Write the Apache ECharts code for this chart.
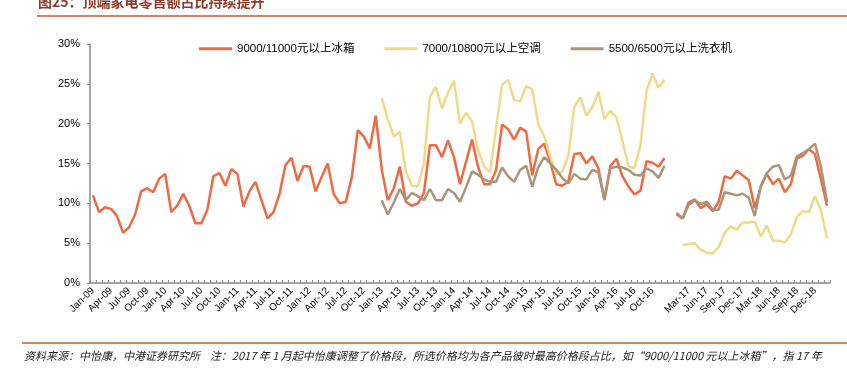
<!DOCTYPE html>
<html>
<head>
<meta charset="utf-8">
<script src="https://cdn.jsdelivr.net/npm/echarts@6/dist/echarts.min.js"></script>
<style>
  html, body { margin: 0; padding: 0; background: #fff; }
  #chart1 { width: 847px; height: 377px; }
</style>
</head>
<body>
<div id="chart1"></div>
<script>
// month names for the category axis
const monthNames = ['Jan', 'Feb', 'Mar', 'Apr', 'May', 'Jun', 'Jul', 'Aug', 'Sep', 'Oct', 'Nov', 'Dec'];

// 9000/11000元以上冰箱, Jan-09 .. Dec-16 and Jan-17 .. Feb-19 (%)
const fridgeOld = [
  11.0, 8.9, 9.5, 9.3, 8.4, 6.3, 7.0, 8.6, 11.5, 11.9, 11.4, 13.1,
  13.7, 8.9, 9.7, 11.2, 9.7, 7.5, 7.5, 9.2, 13.4, 13.8, 12.2, 14.3,
  13.7, 9.6, 11.5, 12.7, 10.4, 8.1, 8.9, 11.2, 14.8, 15.7, 12.8, 14.7,
  14.6, 11.5, 13.3, 15.0, 11.2, 10.0, 10.2, 13.2, 19.2, 18.4, 16.9, 21.0,
  14.2, 10.4, 11.9, 14.6, 10.2, 9.7, 10.0, 11.3, 17.3, 17.3, 15.8, 17.9,
  15.8, 12.4, 15.2, 18.0, 14.6, 12.4, 12.4, 14.2, 19.9, 19.3, 18.0, 19.5,
  19.0, 13.5, 16.8, 17.5, 15.2, 12.4, 12.2, 12.7, 16.2, 16.3, 15.0, 15.9,
  14.4, 10.4, 14.7, 15.6, 13.4, 12.1, 11.1, 11.6, 15.3, 15.1, 14.6, 15.7
];
const fridgeNew = [
  8.6, 8.1, 10.1, 10.5, 9.4, 9.9, 9.0, 10.2, 13.4, 13.1, 14.1, 13.5,
  12.9, 9.4, 12.1, 13.7, 12.4, 13.1, 11.4, 12.4, 15.6, 16.0, 16.8, 16.2,
  13.0, 9.7
];

// 7000/10800元以上空调, Jan-13 .. Dec-16 and Feb-17 .. Feb-19 (%)
const acOld = [
  23.2, 20.5, 18.4, 19.0, 14.0, 12.2, 12.1, 15.0, 23.4, 24.6, 21.9, 23.9,
  25.4, 20.0, 21.4, 20.3, 16.7, 14.6, 13.9, 19.5, 24.9, 25.5, 23.0, 22.8,
  24.7, 24.3, 20.0, 18.4, 15.9, 13.6, 14.0, 15.9, 22.1, 23.3, 21.0, 22.1,
  24.0, 20.6, 21.6, 20.8, 17.8, 14.7, 14.4, 17.3, 24.1, 26.3, 24.5, 25.5
];
const acNew = [
  4.8, 4.9, 5.0, 4.2, 3.8, 3.7, 4.5, 6.3, 7.1, 6.7, 7.6, 7.6,
  7.7, 5.8, 7.2, 5.3, 5.3, 5.1, 6.1, 8.3, 9.0, 8.9, 10.9, 9.1, 5.6
];

// 5500/6500元以上洗衣机, Jan-13 .. Dec-16 and Jan-17 .. Feb-19 (%)
const washerOld = [
  10.4, 8.6, 10.1, 11.8, 10.4, 11.3, 10.9, 10.4, 11.8, 10.4, 10.4, 11.8,
  11.3, 10.2, 12.0, 14.0, 13.6, 13.0, 12.7, 12.7, 14.5, 13.4, 12.7, 14.2,
  14.7, 12.1, 14.5, 15.8, 15.0, 14.2, 13.2, 12.5, 13.7, 13.1, 13.0, 14.2,
  13.9, 10.5, 14.4, 14.6, 14.5, 14.2, 13.6, 13.5, 14.4, 14.0, 13.2, 14.7
];
const washerNew = [
  8.8, 8.1, 9.8, 10.4, 9.9, 10.2, 9.2, 9.2, 11.4, 11.2, 11.0, 11.2,
  10.7, 8.4, 12.2, 13.8, 14.6, 14.8, 13.0, 13.5, 15.9, 16.3, 16.8, 17.5,
  14.6, 10.2
];

const seriesNames = ['9000/11000元以上冰箱', '7000/10800元以上空调', '5500/6500元以上洗衣机'];
const yTicks = [0, 5, 10, 15, 20, 25, 30];

// categories: Jan-09..Dec-16, one empty slot, Jan-17..Feb-19
const buildCategories = () => {
    const cats = [];
    for (let y = 9; y <= 16; y++) {
        monthNames.forEach(m => cats.push(m + '-' + String(y).padStart(2, '0')));
    }
    cats.push('');
    for (let y = 17; y <= 19; y++) {
        monthNames.forEach(m => cats.push(m + '-' + y));
    }
    return cats.slice(0, 97 + 26);
};
const categories = buildCategories();

// put the two pieces of a series on the full axis
const place = (oldPart, oldStart, newPart, newStart) => {
    const out = categories.map(() => null);
    oldPart.forEach((v, i) => { out[oldStart + i] = v; });
    newPart.forEach((v, i) => { out[newStart + i] = v; });
    return out;
};

const lineSeries = (name, color, data) => ({
    name: name,
    type: 'line',
    data: data,
    symbol: 'none',
    connectNulls: false,
    lineStyle: { color: color, width: 2.5 },
    itemStyle: { color: color },
    animation: false
});

const getOptionChart1 = () => {
    return {
        animation: false,
        textStyle: { fontFamily: 'Liberation Sans, Arial, sans-serif' },
        graphic: [
            {
                type: 'text', left: 38, top: -5,
                style: {
                    text: '图25：顶端家电零售额占比持续提升',
                    font: 'bold 14px "Noto Sans CJK SC"',
                    fill: '#8E3A28'
                }
            },
            {
                type: 'line',
                shape: { x1: 37, y1: 16, x2: 847, y2: 16 },
                style: { stroke: '#C5583B', lineWidth: 1.5 }
            },
            {
                type: 'line',
                shape: { x1: 22, y1: 343, x2: 847, y2: 343 },
                style: { stroke: '#C5583B', lineWidth: 1.5 }
            },
            {
                type: 'text', left: 24, top: 350,
                style: {
                    text: '资料来源：中怡康，中港证券研究所    注：2017 年 1 月起中怡康调整了价格段，所选价格均为各产品彼时最高价格段占比，如“9000/11000 元以上冰箱”，指 17 年',
                    font: 'italic 11px "Noto Sans CJK SC"',
                    fill: '#222'
                }
            }
        ],
        legend: {
            top: 38,
            left: 194,
            itemWidth: 33,
            itemHeight: 3,
            itemGap: 30,
            icon: 'rect',
            textStyle: { fontSize: 11.5, color: '#000', fontFamily: 'Liberation Sans, "Noto Sans CJK SC"' },
            data: seriesNames
        },
        grid: { left: 90, right: 17, top: 44, bottom: 94, containLabel: false },
        xAxis: {
            type: 'category',
            data: categories,
            boundaryGap: true,
            axisLine: { lineStyle: { color: '#888', width: 1.5 } },
            axisTick: { show: true, inside: true, interval: 0, length: 3, lineStyle: { color: '#888' } },
            axisLabel: {
                interval: 2,
                rotate: 45,
                fontSize: 10,
                color: '#000',
                margin: 6
            },
            splitLine: { show: false }
        },
        yAxis: {
            type: 'value',
            min: yTicks[0],
            max: yTicks[yTicks.length - 1],
            interval: 5,
            axisLine: { show: true, lineStyle: { color: '#888', width: 1.5 } },
            axisTick: { show: true, length: 3, lineStyle: { color: '#888' } },
            axisLabel: { formatter: '{value}%', fontSize: 11, color: '#000', margin: 10 },
            splitLine: { show: false }
        },
        series: [
            lineSeries(seriesNames[0], '#EE6A43', place(fridgeOld, 0, fridgeNew, 97)),
            lineSeries(seriesNames[1], '#F1D98A', place(acOld, 48, acNew, 98)),
            lineSeries(seriesNames[2], '#A9967A', place(washerOld, 48, washerNew, 97))
        ]
    };
};

let chart1;
const initCharts = () => {
    chart1 = echarts.init(document.getElementById('chart1'));
    chart1.setOption(getOptionChart1());
};
document.addEventListener('DOMContentLoaded', function () {
    initCharts();
});
window.addEventListener('resize', function () {
    chart1.resize();
});
</script>
</body>
</html>
